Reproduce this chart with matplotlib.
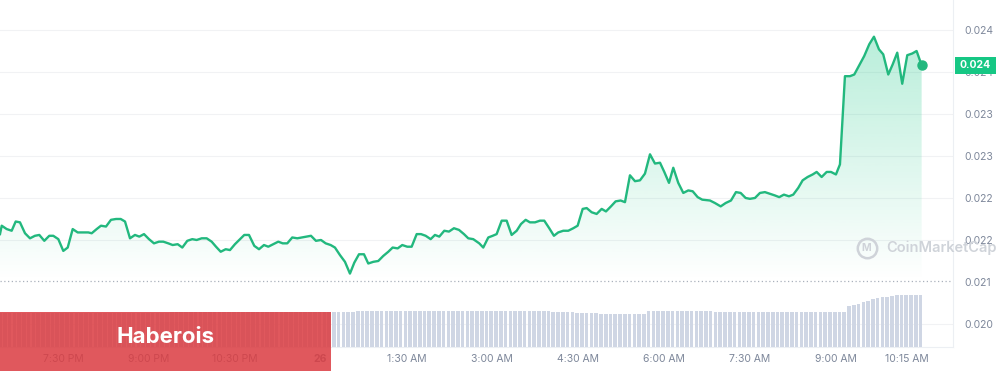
import matplotlib

matplotlib.use("Agg")
import matplotlib.pyplot as plt
import matplotlib.transforms as mtransforms
import numpy as np
from matplotlib.colors import to_rgb
from matplotlib.patches import Rectangle

plt.rcParams["font.family"] = ["Inter", "DejaVu Sans"]

# price trace: hours since midnight of the 25th, price in USD
times = [
    18.400, 18.430, 18.517, 18.604, 18.674, 18.749, 18.837, 18.924, 19.011, 19.087,
    19.174, 19.261, 19.331, 19.419, 19.506, 19.583, 19.670, 19.757, 19.855, 19.943,
    20.002, 20.089, 20.164, 20.252, 20.339, 20.427, 20.509, 20.584, 20.671, 20.758,
    20.834, 20.916, 21.003, 21.090, 21.178, 21.253, 21.340, 21.417, 21.504, 21.585,
    21.672, 21.759, 21.836, 21.924, 22.011, 22.098, 22.174, 22.256, 22.343, 22.418,
    22.505, 22.593,
    22.668, 22.750, 22.843, 22.925, 23.012, 23.087, 23.175, 23.262, 23.339, 23.419,
    23.506, 23.594, 23.671, 23.758, 23.833, 23.920, 24.008, 24.090, 24.177, 24.252,
    24.340, 24.427, 24.514, 24.590, 24.672, 24.759, 24.834, 24.922, 25.009, 25.096,
    25.184, 25.260, 25.348, 25.428, 25.515, 25.592, 25.680, 25.755, 25.837, 25.924,
    25.999, 26.075, 26.162, 26.244, 26.331, 26.419, 26.506, 26.581, 26.668,
    26.773, 26.843, 26.931, 27.008, 27.077, 27.165, 27.252, 27.339, 27.427, 27.502,
    27.584, 27.659, 27.747, 27.834, 27.909, 27.996, 28.078, 28.153, 28.241, 28.328,
    28.416, 28.492, 28.580, 28.650, 28.737, 28.824, 28.912, 28.987, 29.074, 29.156,
    29.244, 29.319, 29.406, 29.494, 29.581, 29.668, 29.756, 29.843, 29.931, 30.006,
    30.088, 30.163, 30.250, 30.338, 30.425, 30.502, 30.589, 30.669,
    30.804, 30.891, 30.991, 31.078, 31.171, 31.258, 31.340, 31.427, 31.502, 31.590,
    31.677, 31.764, 31.852, 31.939, 32.014, 32.096, 32.184, 32.259, 32.346, 32.423,
    32.510, 32.598, 32.668, 32.755, 32.843, 32.918, 33.005, 33.075,
    33.162, 33.250, 33.325, 33.412, 33.499, 33.587, 33.669, 33.756, 33.831, 33.919,
    33.996, 34.076, 34.163, 34.251, 34.338, 34.414, 34.502,
]
prices = [
    0.02157, 0.02167, 0.02163, 0.02161, 0.02172, 0.02171, 0.02158, 0.02152, 0.02155, 0.02156,
    0.02149, 0.02155, 0.02155, 0.02151, 0.02137, 0.02141, 0.02163, 0.02159, 0.02159, 0.02159,
    0.02158, 0.02163, 0.02167, 0.02166, 0.02174, 0.02175, 0.02175, 0.02172, 0.02152, 0.02156,
    0.02154, 0.02157, 0.02151, 0.02146, 0.02148, 0.02148, 0.02146, 0.02144, 0.02145, 0.02141,
    0.02149, 0.02151, 0.02150, 0.02152, 0.02152, 0.02148, 0.02142, 0.02136, 0.02139, 0.02138,
    0.02145, 0.02151,
    0.02156, 0.02156, 0.02143, 0.02139, 0.02144, 0.02142, 0.02145, 0.02148, 0.02146, 0.02146,
    0.02153, 0.02152, 0.02153, 0.02154, 0.02155, 0.02149, 0.02150, 0.02146, 0.02144, 0.02141,
    0.02132, 0.02124, 0.02110, 0.02123, 0.02133, 0.02133, 0.02122, 0.02124, 0.02125, 0.02131,
    0.02136, 0.02141, 0.02140, 0.02144, 0.02142, 0.02142, 0.02157, 0.02157, 0.02155, 0.02151,
    0.02156, 0.02154, 0.02161, 0.02160, 0.02164, 0.02162, 0.02157, 0.02152, 0.02151,
    0.02146, 0.02141, 0.02153, 0.02155, 0.02157, 0.02173, 0.02173, 0.02156, 0.02161, 0.02169,
    0.02174, 0.02171, 0.02171, 0.02173, 0.02173, 0.02164, 0.02155, 0.02159, 0.02161, 0.02161,
    0.02164, 0.02167, 0.02187, 0.02188, 0.02183, 0.02181, 0.02187, 0.02184, 0.02190, 0.02196,
    0.02197, 0.02195, 0.02227, 0.02220, 0.02221, 0.02229, 0.02252, 0.02241, 0.02242, 0.02231,
    0.02218, 0.02236, 0.02218, 0.02206, 0.02209, 0.02208, 0.02201, 0.02198,
    0.02197, 0.02194, 0.02190, 0.02194, 0.02197, 0.02207, 0.02206, 0.02200, 0.02199, 0.02200,
    0.02206, 0.02207, 0.02205, 0.02203, 0.02201, 0.02204, 0.02202, 0.02204, 0.02212, 0.02221,
    0.02225, 0.02228, 0.02231, 0.02225, 0.02231, 0.02231, 0.02228, 0.02240,
    0.02345, 0.02345, 0.02347, 0.02358, 0.02369, 0.02383, 0.02392, 0.02377, 0.02371, 0.02347,
    0.02359, 0.02373, 0.02336, 0.02370, 0.02372, 0.02375, 0.02358,
]
open_price = 0.02101
last_label = "0.024"

# volume bars, one per 5 minutes (relative units), one row per hour
vol_start = 18.40
volumes = [
    0.98, 0.98, 0.98, 0.98, 0.98, 0.98, 0.98, 0.98, 0.98, 0.98, 0.98, 0.98,
    0.98, 0.98, 0.98, 0.98, 0.98, 0.98, 0.98, 0.98, 0.98, 0.98, 0.98, 0.98,
    0.99, 0.99, 0.99, 0.99, 0.99, 0.99, 0.99, 0.99, 0.99, 0.99, 0.99, 0.99,
    1.00, 1.00, 1.00, 1.00, 1.00, 1.00, 1.00, 1.00, 1.00, 1.00, 1.00, 1.00,
    1.02, 1.02, 1.02, 1.02, 1.02, 1.02, 1.02, 1.02, 1.02, 1.02, 1.02, 1.02,
    1.02, 1.02, 1.02, 1.02, 1.02, 1.02, 1.02, 1.02, 1.02, 1.02, 1.00, 1.00,
    1.00, 1.00, 1.02, 1.03, 1.03, 1.03, 1.03, 1.03, 1.03, 1.03, 1.03, 1.03,
    1.03, 1.03, 1.03, 1.03, 1.03, 1.03, 1.03, 1.03, 1.03, 1.03, 1.03, 1.03,
    1.03, 1.03, 1.03, 1.03, 1.03, 1.03, 1.03, 1.03, 1.03, 1.03, 1.03, 1.03,
    1.03, 1.03, 1.03, 1.03, 1.03, 1.03, 1.03, 1.03, 1.00, 1.00, 1.00, 1.00,
    1.00, 0.97, 0.97, 0.97, 0.97, 0.97, 0.95, 0.95, 0.95, 0.95, 0.95, 0.95,
    0.95, 0.95, 0.95, 0.95, 1.03, 1.03, 1.03, 1.03, 1.03, 1.03, 1.03, 1.03,
    1.04, 1.04, 1.04, 1.04, 1.04, 1.04, 1.01, 1.01, 1.01, 1.01, 1.01, 1.01,
    1.01, 1.01, 1.01, 1.01, 1.01, 1.01, 1.01, 1.01, 1.01, 1.01, 1.01, 1.01,
    1.01, 1.01, 1.01, 1.01, 1.01, 1.01, 1.01, 1.01, 1.01, 1.02, 1.18, 1.21,
    1.24, 1.30, 1.34, 1.38, 1.40, 1.43, 1.45, 1.47, 1.49, 1.49, 1.49, 1.49,
    1.49, 1.49,
]

y_ticks = [0.0240, 0.0235, 0.0230, 0.0225, 0.0220, 0.0215, 0.0210, 0.0205]
y_labels = ["0.024", "0.024", "0.023", "0.023", "0.022", "0.022", "0.021", "0.020"]
x_ticks = [19.5, 21.0, 22.5, 24.0, 25.5, 27.0, 28.5, 30.0, 31.5, 33.0, 34.25]
x_labels = ["7:30 PM", "9:00 PM", "10:30 PM", "26", "1:30 AM", "3:00 AM",
            "4:30 AM", "6:00 AM", "7:30 AM", "9:00 AM", "10:15 AM"]

GREEN = "#16c784"
LINE = "#22b87e"
TICK = "#7d879a"

fig = plt.figure(figsize=(9.98, 3.71), dpi=100)
ax = fig.add_axes([0, 24 / 371, 953 / 998, 347 / 371])

for v in y_ticks:
    if v != 0.0210:
        ax.axhline(v, color="#f1f2f4", lw=0.8, zorder=0)
ax.axhline(open_price, color="#aab1bc", lw=0.9, ls=(0, (1, 2)), zorder=1)

# gradient area under the line
area = ax.fill_between(times, prices, open_price, facecolor="none", edgecolor="none")
grad = np.zeros((256, 1, 4))
grad[:, 0, :3] = to_rgb(GREEN)
grad[:, 0, 3] = np.linspace(0.0, 0.30, 256)
img = ax.imshow(grad, extent=[times[0], times[-1], open_price, max(prices)],
                origin="lower", aspect="auto", interpolation="bilinear", zorder=1)
img.set_clip_path(area.get_paths()[0], transform=ax.transData)

ax.plot(times, prices, color=LINE, lw=1.7, zorder=3, solid_joinstyle="round")
ax.plot(times[-1], prices[-1], "o", color=LINE, ms=6.5, zorder=4)

ax.set_xlim(18.40, 35.05)
ax.set_ylim(0.020226, 0.024357)

# volume pane
axv = ax.twinx()
vol_times = vol_start + np.arange(len(volumes)) / 12
axv.bar(vol_times, volumes, width=0.063, color="#cfd6e4", zorder=2)
axv.set_ylim(0, 10)
axv.set_yticks([])
for s in axv.spines.values():
    s.set_visible(False)
axv.set_xlim(18.40, 35.05)

# price ticks on the right (after twinx, which moves them left)
ax.yaxis.tick_right()
ax.set_yticks(y_ticks, y_labels)
ax.set_xticks(x_ticks, x_labels)
ax.tick_params(axis="y", length=0, pad=8, labelsize=7.5, labelcolor=TICK)
ax.tick_params(axis="x", length=0, pad=5, labelsize=7.5, labelcolor=TICK)
ax.get_xticklabels()[3].set_fontweight("bold")
for side in ("top", "left"):
    ax.spines[side].set_visible(False)
for side in ("right", "bottom"):
    ax.spines[side].set_color("#eceff3")
    ax.spines[side].set_linewidth(0.8)

# last price badge
trans = mtransforms.blended_transform_factory(ax.transAxes, ax.transData)
half = 0.000103
axv.add_patch(Rectangle((1.002, prices[-1] - half), 0.043, 2 * half, transform=trans,
                        facecolor=GREEN, edgecolor="none", zorder=6, clip_on=False))
axv.text(1.0235, prices[-1], last_label, transform=trans, ha="center", va="center",
         color="white", fontsize=7.5, fontweight="bold", zorder=7, clip_on=False)

# watermark
fig.text(886 / 998, 1 - 248 / 371, "CoinMarketCap", fontsize=10.5, fontweight="semibold",
         color="#cfd3d9", ha="left", va="center", zorder=5)
fig.add_artist(plt.Line2D([866.5 / 998], [1 - 248 / 371], marker="o", ms=14,
                          mfc="none", mec="#cfd3d9", mew=1.8, transform=fig.transFigure))
fig.text(866.5 / 998, 1 - 248 / 371, "M", fontsize=7.5, fontweight="bold",
         color="#cfd3d9", ha="center", va="center")

# red overlay with caption
fig.add_artist(Rectangle((0, 0), 331 / 998, 59 / 371, transform=fig.transFigure,
                         facecolor="#db3d42", edgecolor="none", alpha=0.86, zorder=10))
fig.text(166 / 998, 1 - 337 / 371, "Haberois", fontsize=16, fontweight="bold",
         color="white", ha="center", va="center", zorder=11)

fig.savefig("out.png", dpi=100)
plt.close(fig)
